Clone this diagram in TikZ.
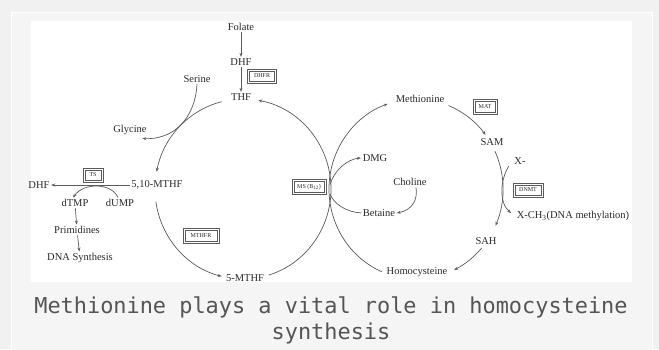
\documentclass[tikz,border=0pt]{standalone}
\usepackage{fontspec}
\setmainfont{Liberation Serif}
\newfontfamily\capfont{DejaVu Sans Mono}
\usetikzlibrary{arrows.meta,calc}
\definecolor{pagebg}{HTML}{F1F1F1}
\definecolor{cardbg}{HTML}{F5F5F5}
\definecolor{ink}{HTML}{2A2A2A}
\definecolor{wire}{HTML}{5A5A5A}
\definecolor{captxt}{HTML}{555555}

\begin{document}
\begin{tikzpicture}[x=1pt,y=-1pt,
  lbl/.style={text=ink, inner sep=1.5pt, font=\fontsize{10.5}{12}\selectfont},
  enz/.style={draw=wire, line width=0.5pt, inner sep=0pt, text=ink,
              font=\fontsize{6}{7}\selectfont},
  enzframe/.style={draw=wire, line width=0.5pt},
  flow/.style={draw=wire, line width=0.7pt},
  arr/.style={flow, -{Stealth[length=4pt,width=3pt]}},
  captionline/.style={text=captxt, font=\capfont\fontsize{21.9}{27}\selectfont,
              anchor=base, inner sep=0pt}]

\useasboundingbox (0,0) rectangle (659,349);
\clip (0,0) rectangle (659,349);
% page, card and white figure area
\fill[pagebg] (0,0) rectangle (659,349);
\filldraw[fill=cardbg, draw=white, line width=1pt] (11,12) rectangle (652,360);
\fill[white] (31,21) rectangle (632,282);

% ---- folate cycle ----
\node[lbl] (folate) at (241,27) {Folate};
\node[lbl] (dhf) at (241,62) {DHF};
\node[lbl] (thf) at (241,97) {THF};
\node[enz, minimum width=25pt, minimum height=10pt] (dhfr) at (262,76) {DHFR};
\node[lbl] (serine) at (197,79) {Serine};
\node[lbl] (glycine) at (130,130) {Glycine};
\node[lbl] (mthf510) at (157,185) {5,10-MTHF};
\node[lbl] (dhfl) at (39,185) {DHF};
\node[enz, minimum width=16pt, minimum height=10pt] (ts) at (93,175) {TS};
\node[lbl] (dtmp) at (75,203) {dTMP};
\node[lbl] (dump) at (120,203) {dUMP};
\node[lbl] (prim) at (77,230) {Primidines};
\node[lbl] (dna) at (80,258) {DNA Synthesis};
\node[enz, minimum width=32pt, minimum height=11pt] (mthfr) at (201,236) {MTHFR};
\node[lbl] (mthf5) at (245,278) {5-MTHF};
\node[enz, minimum width=30pt, minimum height=11pt] (ms) at (309,187) {MS (B\textsubscript{12})};

% ---- methionine cycle ----
\node[lbl] (dmg) at (375,158) {DMG};
\node[lbl] (choline) at (410,182) {Choline};
\node[lbl] (betaine) at (379,213) {Betaine};
\node[lbl] (met) at (420,99) {Methionine};
\node[enz, minimum width=20pt, minimum height=11pt] (mat) at (485,107) {MAT};
\node[lbl] (sam) at (492,142) {SAM};
\node[lbl] (xm) at (520,161) {X-};
\node[enz, minimum width=26pt, minimum height=10pt] (dnmt) at (528,190) {DNMT};
\node[lbl] (xch3) at (573,216) {X-CH\textsubscript{3}(DNA methylation)};
\node[lbl] (sah) at (486,241) {SAH};
\node[lbl] (hcy) at (417,272) {Homocysteine};

% outer frame of each enzyme box
\foreach \e in {dhfr,ts,mthfr,ms,mat,dnmt}
  \draw[enzframe] ([xshift=-1.6pt,yshift=1.6pt]\e.north west)
    rectangle ([xshift=1.6pt,yshift=-1.6pt]\e.south east);

% straight steps
\draw[arr] (folate) -- (dhf);
\draw[arr] (dhf) -- (thf);
\draw[arr] (mthf510.west) -- (dhfl.east);
\draw[arr] (dtmp) -- (prim);
\draw[arr] (prim) -- (dna);

% side reactions
\draw[arr] (serine.south) .. controls (195,120) and (172,140) .. ([xshift=-6pt,yshift=-2pt]glycine.south east);
\draw[arr] ([xshift=-2pt]dump.north) .. controls (112,183) and (84,182) .. ([xshift=-2pt]dtmp.north);

% folate ring
\coordinate (c1) at (243,189);
\draw[arr] ($(c1)+(256:88 and 90)$) arc[start angle=256, end angle=191, x radius=88, y radius=90];
\draw[arr] ($(c1)+(172:88 and 90)$) arc[start angle=172, end angle=104, x radius=88, y radius=90];
\draw[arr] ($(c1)+(73:88 and 90)$) arc[start angle=73, end angle=-80, x radius=88, y radius=90];

% methionine ring
\coordinate (c2) at (416,189);
\draw[arr] ($(c2)+(113:87 and 90)$) arc[start angle=113, end angle=251, x radius=87, y radius=90];
\draw[arr] ($(c2)+(292:87 and 90)$) arc[start angle=292, end angle=323, x radius=87, y radius=90];
\draw[arr] ($(c2)+(-25:87 and 90)$) arc[start angle=-25, end angle=24, x radius=87, y radius=90];
\draw[arr] ($(c2)+(41:87 and 90)$) arc[start angle=41, end angle=64, x radius=87, y radius=90];

% betaine branch at the MS junction
\coordinate (msj) at (330,189);
\draw[arr] ([yshift=4pt]msj) .. controls (334,170) and (348,159) .. (dmg.west);
\draw[flow] (betaine.west) .. controls (346,212) and (334,204) .. ([yshift=-5pt]msj);
\draw[arr] ([xshift=6pt]choline.south) .. controls (418,200) and (412,210) .. (betaine.east);

% methyl transfer
\draw[arr] ([xshift=-4pt]xm.south west) .. controls (500,180) and (499,203) .. ([xshift=-4pt,yshift=3pt]xch3.west);

% caption
\node[captionline] (cap1) at (331,313) {Methionine plays a vital role in homocysteine};
\node[captionline] (cap2) at (331,339) {synthesis};
\end{tikzpicture}
\end{document}
